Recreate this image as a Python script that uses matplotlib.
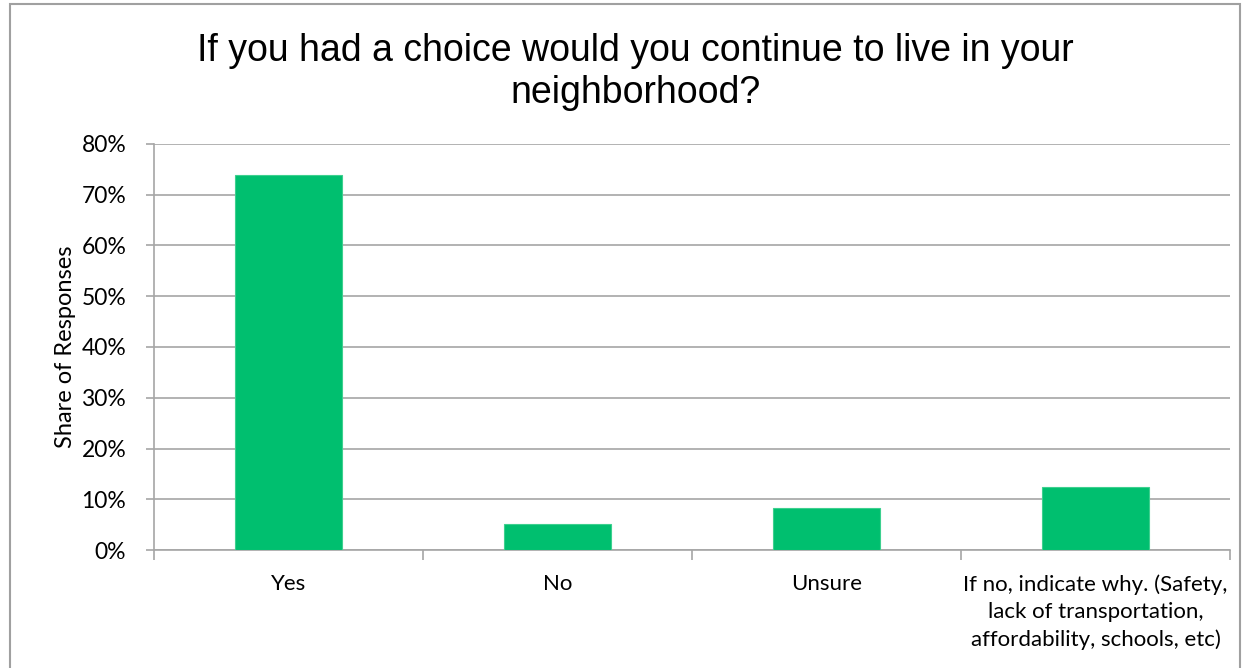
import matplotlib.pyplot as plt
from matplotlib.patches import Rectangle
from matplotlib.ticker import FixedLocator, PercentFormatter

# data
categories = ["Yes", "No", "Unsure",
              "If no, indicate why. (Safety,\nlack of transportation,\naffordability, schools, etc)"]
shares = [73.9, 5.2, 8.3, 12.5]

title = "If you had a choice would you continue to live in your\nneighborhood?"

fig = plt.figure(figsize=(12.43, 6.68), dpi=100)
ax = fig.add_axes([0.1239, 0.1762, 0.8656, 0.6087])

x = list(range(len(categories)))
ax.bar(x, shares, width=0.4, color="#00BF6F", edgecolor="#3DD08F", linewidth=0.8, zorder=3)

ax.set_xlim(-0.5, len(categories) - 0.5)
ax.set_ylim(0, 80)
ax.set_yticks(range(0, 81, 10))
ax.yaxis.set_major_formatter(PercentFormatter(decimals=0))
ax.grid(axis="y", color="#A6A6A6", linewidth=1.2, zorder=0)

ax.set_xticks(x)
ax.set_xticklabels(categories, fontsize=16, family="Lato", linespacing=1.45)
ax.xaxis.set_minor_locator(FixedLocator([i - 0.5 for i in range(len(categories) + 1)]))
ax.tick_params(axis="x", which="major", length=0, pad=17)
ax.tick_params(axis="x", which="minor", length=7, color="#A6A6A6", width=1.2)
ax.tick_params(axis="y", length=6, color="#A6A6A6", width=1.2, labelsize=16.5, pad=14)
for lab in ax.get_yticklabels():
    lab.set_family("Lato")

for side in ["top", "right"]:
    ax.spines[side].set_visible(False)
for side in ["left", "bottom"]:
    ax.spines[side].set_color("#A6A6A6")
    ax.spines[side].set_linewidth(1.2)

ax.set_ylabel("Share of Responses", fontsize=17, family="Lato", labelpad=4)

fig.text(0.511, 0.892, title, ha="center", va="center", fontsize=27,
         family="Liberation Sans", linespacing=1.2)

# outer chart border
fig.patches.append(Rectangle((10 / 1243, -0.01), 1230 / 1243, 1 - 4 / 668 + 0.01,
                             transform=fig.transFigure, fill=False,
                             edgecolor="#A0A0A0", linewidth=1.5))

fig.savefig("out.png", dpi=100)
